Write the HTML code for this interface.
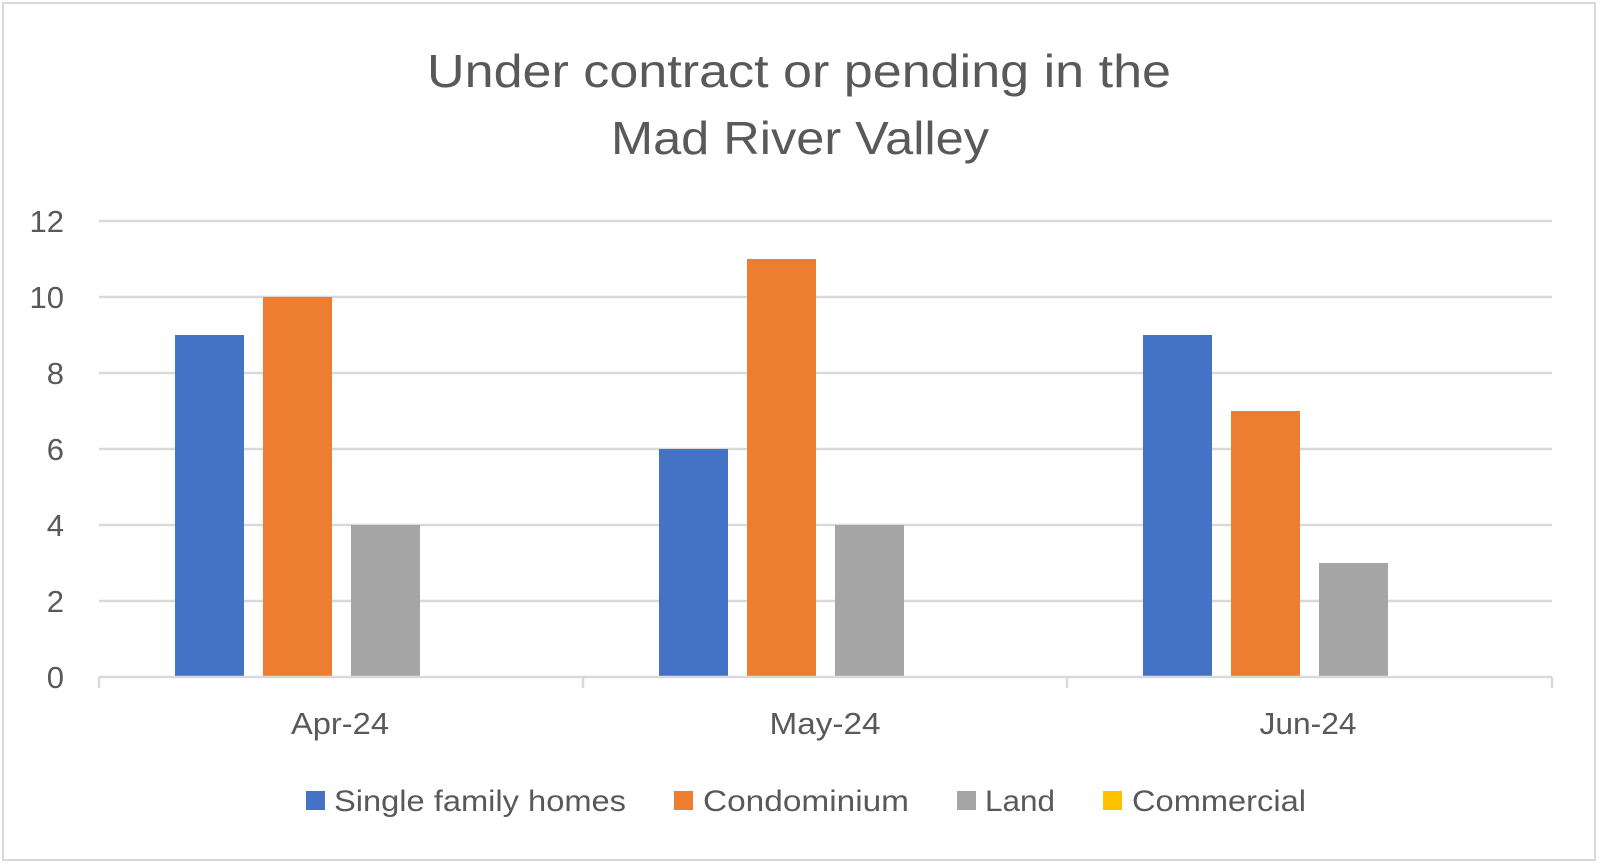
<!DOCTYPE html>
<html><head><meta charset="utf-8"><style>
html,body{margin:0;padding:0;background:#fff;}
svg{display:block;font-family:"Liberation Sans",sans-serif;}
</style></head><body>
<svg width="1600" height="864" viewBox="0 0 1600 864">
<rect x="3" y="3" width="1592" height="857" fill="#fff" stroke="#d9d9d9" stroke-width="2"/>
<text x="799" y="87" font-size="46" fill="#595959" text-anchor="middle" textLength="744" lengthAdjust="spacingAndGlyphs">Under contract or pending in the</text>
<text x="800" y="154" font-size="46" fill="#595959" text-anchor="middle" textLength="378" lengthAdjust="spacingAndGlyphs">Mad River Valley</text>
<g stroke="#d9d9d9" stroke-width="2.5">
<line x1="99" x2="1552" y1="221" y2="221"/>
<line x1="99" x2="1552" y1="297" y2="297"/>
<line x1="99" x2="1552" y1="373" y2="373"/>
<line x1="99" x2="1552" y1="449" y2="449"/>
<line x1="99" x2="1552" y1="525" y2="525"/>
<line x1="99" x2="1552" y1="601" y2="601"/>
</g>
<g fill="#4472c4">
<rect x="175" y="335" width="69" height="342"/>
<rect x="659" y="449" width="69" height="228"/>
<rect x="1143" y="335" width="69" height="342"/>
</g>
<g fill="#ed7d31">
<rect x="263" y="297" width="69" height="380"/>
<rect x="747" y="259" width="69" height="418"/>
<rect x="1231" y="411" width="69" height="266"/>
</g>
<g fill="#a5a5a5">
<rect x="351" y="525" width="69" height="152"/>
<rect x="835" y="525" width="69" height="152"/>
<rect x="1319" y="563" width="69" height="114"/>
</g>
<g stroke="#d9d9d9" stroke-width="2.5" fill="none">
<line x1="99" x2="1552" y1="677" y2="677"/>
<line x1="99" x2="99" y1="677" y2="688"/>
<line x1="583" x2="583" y1="677" y2="688"/>
<line x1="1067" x2="1067" y1="677" y2="688"/>
<line x1="1552" x2="1552" y1="677" y2="688"/>
</g>
<g font-size="31" fill="#595959" text-anchor="end">
<text x="64" y="232">12</text>
<text x="64" y="308">10</text>
<text x="64" y="384">8</text>
<text x="64" y="460">6</text>
<text x="64" y="536">4</text>
<text x="64" y="612">2</text>
<text x="64" y="688">0</text>
</g>
<g font-size="31" fill="#595959" text-anchor="middle">
<text x="340" y="734" textLength="98" lengthAdjust="spacingAndGlyphs">Apr-24</text>
<text x="825" y="734" textLength="111" lengthAdjust="spacingAndGlyphs">May-24</text>
<text x="1308" y="734" textLength="97" lengthAdjust="spacingAndGlyphs">Jun-24</text>
</g>
<g font-size="30" fill="#595959">
<rect x="306" y="791" width="19" height="19" fill="#4472c4"/>
<text x="334" y="811" textLength="292" lengthAdjust="spacingAndGlyphs">Single family homes</text>
<rect x="674" y="791" width="19" height="19" fill="#ed7d31"/>
<text x="703" y="811" textLength="206" lengthAdjust="spacingAndGlyphs">Condominium</text>
<rect x="957" y="791" width="19" height="19" fill="#a5a5a5"/>
<text x="985" y="811" textLength="70" lengthAdjust="spacingAndGlyphs">Land</text>
<rect x="1103" y="791" width="19" height="19" fill="#ffc000"/>
<text x="1132" y="811" textLength="174" lengthAdjust="spacingAndGlyphs">Commercial</text>
</g>
</svg>
</body></html>
